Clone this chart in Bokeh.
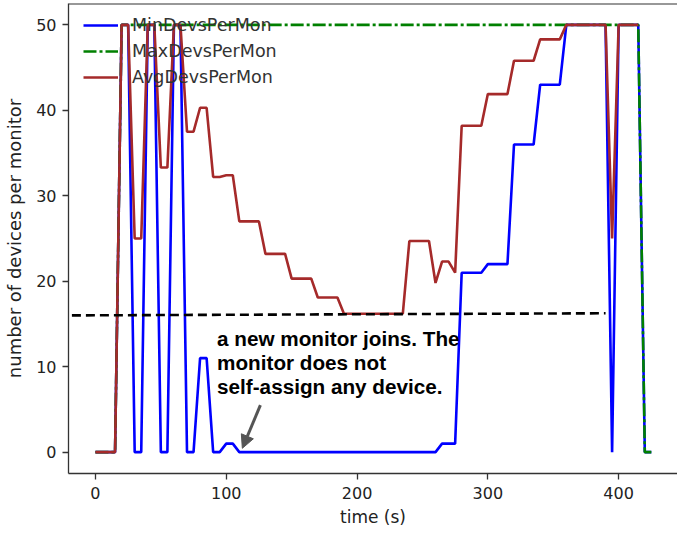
from bokeh.plotting import figure
from bokeh.models import Range1d, FixedTicker, Legend, LegendItem, Label, Arrow, NormalHead, Span
from bokeh.embed import file_html
from bokeh.resources import INLINE

# ---- data (vertices of the piecewise-linear series) ----
min_t = [0, 15, 20, 25, 30, 35, 40, 45, 50, 55, 60, 65, 70, 75, 80, 85, 90, 95, 100, 105, 110,
         260, 265, 275, 280, 295, 300, 315, 320, 335, 340, 355, 360, 390, 395, 400, 415, 420, 425]
min_v = [0, 0, 50, 50, 0, 0, 50, 50, 0, 0, 50, 50, 0, 0, 11, 11, 0, 0, 1, 1, 0,
         0, 1, 1, 21, 21, 22, 22, 36, 36, 43, 43, 50, 50, 0, 50, 50, 0, 0]

max_t = [0, 15, 20, 415, 420, 425]
max_v = [0, 0, 50, 50, 0, 0]

avg_t = [0, 15, 20, 25, 30, 35, 40, 45, 50, 55, 60, 65, 70, 75, 80, 85, 90, 95, 100, 105,
         110, 125, 130, 145, 150, 165, 170, 185, 190, 235, 240, 255, 260, 265, 270, 275, 280, 295, 300, 315,
         320, 335, 340, 355, 360, 390, 395, 400, 415]
avg_v = [0, 0, 50, 50, 25, 25, 50, 50, 33.3, 33.3, 50, 50, 37.5, 37.5, 40.3, 40.3, 32.2, 32.2, 32.4, 32.4,
         27.0, 27.0, 23.2, 23.2, 20.3, 20.3, 18.1, 18.1, 16.2, 16.2, 24.7, 24.7, 19.8, 22.3, 22.3, 21.0, 38.2, 38.2, 41.9, 41.9,
         45.8, 45.8, 48.3, 48.3, 50, 50, 25, 50, 50]

ref_t = [-18, 390]
ref_v = [16.0, 16.25]

series_labels = ["MinDevsPerMon", "MaxDevsPerMon", "AvgDevsPerMon"]
x_ticks = [0, 100, 200, 300, 400]
y_ticks = [0, 10, 20, 30, 40, 50]
note_lines = ["a new monitor joins. The", "monitor does not", "self-assign any device."]

FONT = "DejaVu Sans"

p = figure(width=677, height=534, output_backend="svg", toolbar_location=None,
           x_range=Range1d(-20.6, 445), y_range=Range1d(-2.5, 52.5),
           min_border_left=68, min_border_right=0, min_border_top=3, min_border_bottom=61)
p.background_fill_color = "white"
p.border_fill_color = "white"
p.outline_line_color = None
p.grid.visible = False

for ax in (p.xaxis[0], p.yaxis[0]):
    ax.axis_line_color = "#333333"
    ax.axis_line_width = 1.3
    ax.major_tick_line_color = "#333333"
    ax.major_tick_line_width = 1.3
    ax.major_tick_in = 0
    ax.major_tick_out = 6
    ax.minor_tick_line_color = None
    ax.major_label_text_font = FONT
    ax.major_label_text_font_size = "16px"
    ax.major_label_text_color = "#222222"
    ax.axis_label_text_font = FONT
    ax.axis_label_text_font_style = "normal"
    ax.axis_label_text_color = "#222222"

p.xaxis.axis_label_text_font_size = "17px"
p.yaxis.axis_label_text_font_size = "18px"
p.xaxis.ticker = FixedTicker(ticks=x_ticks)
p.yaxis.ticker = FixedTicker(ticks=y_ticks)
p.xaxis.axis_label = "time (s)"
p.yaxis.axis_label = "number of devices per monitor"
p.xaxis.major_label_standoff = 7
p.yaxis.major_label_standoff = 6
p.xaxis.axis_label_standoff = 5
p.yaxis.axis_label_standoff = 8

# top spine
p.add_layout(Span(location=52.5, dimension="width", line_color="#333333", line_width=2))

r_min = p.line(min_t, min_v, line_color="blue", line_width=2.6)
r_max = p.line(max_t, max_v, line_color="green", line_width=2.6, line_dash="13 3 3 3")
r_avg = p.line(avg_t, avg_v, line_color="#a52a2a", line_width=2.6)
p.line(ref_t, ref_v, line_color="black", line_width=2.6, line_dash="9 5")

legend = Legend(items=[LegendItem(label=series_labels[0], renderers=[r_min]),
                       LegendItem(label=series_labels[1], renderers=[r_max]),
                       LegendItem(label=series_labels[2], renderers=[r_avg])],
                location=(15, 386), padding=0, margin=0, spacing=6,
                glyph_width=35, glyph_height=20, label_height=20, label_standoff=14,
                label_text_font=FONT, label_text_font_size="17.5px", label_text_color="#333333",
                background_fill_alpha=0, border_line_color=None)
p.add_layout(legend)

for i, line in enumerate(note_lines):
    p.add_layout(Label(x=93, y=13.3 - i * 2.83, text=line, text_font="Liberation Sans",
                       text_font_size="20.7px", text_font_style="bold", text_color="black",
                       text_baseline="alphabetic"))

p.add_layout(Arrow(end=NormalHead(size=13, fill_color="#555555", line_color="#555555"),
                   x_start=126.1, y_start=5.5, x_end=112.3, y_end=0.45,
                   line_color="#555555", line_width=3))

open("out.html", "w").write(file_html(p, INLINE))
